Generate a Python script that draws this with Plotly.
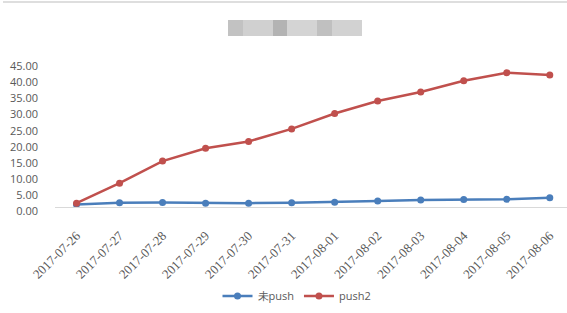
import plotly.graph_objects as go

dates = ["2017-07-26", "2017-07-27", "2017-07-28", "2017-07-29", "2017-07-30", "2017-07-31",
         "2017-08-01", "2017-08-02", "2017-08-03", "2017-08-04", "2017-08-05", "2017-08-06"]
no_push = [0.8, 1.3, 1.4, 1.2, 1.2, 1.3, 1.5, 1.85, 2.2, 2.3, 2.4, 2.9]
push2 = [1.2, 7.4, 14.3, 18.3, 20.4, 24.3, 29.1, 33.0, 35.8, 39.3, 41.8, 41.1]
y_ticks = [0, 5, 10, 15, 20, 25, 30, 35, 40, 45]
series_names = ["未push", "push2"]

BLUE = "#4A7EBB"
RED = "#C0504D"

fig = go.Figure()
fig.add_trace(go.Scatter(x=dates, y=no_push, name=series_names[0], mode="lines+markers",
                         line=dict(color=BLUE, width=2.5), marker=dict(color=BLUE, size=7)))
fig.add_trace(go.Scatter(x=dates, y=push2, name=series_names[1], mode="lines+markers",
                         line=dict(color=RED, width=2.5), marker=dict(color=RED, size=7)))

PL, PW, PB, PH = 55, 512, 207, 151  # plot area in pixels: left, width, bottom y, height


def px_x(x):
    return (x - PL) / PW


def px_y(y):
    return (PB - y) / PH


# blurred title placeholder blocks (decoration)
blocks = [(228, 243, "#c2c2c2"), (243, 273, "#d0d0d0"), (273, 287, "#b3b3b3"),
          (287, 317, "#d4d4d4"), (317, 332, "#c0c0c0"), (332, 362, "#d2d2d2")]
shapes = []
for x0, x1, c in blocks:
    shapes.append(dict(type="rect", xref="paper", yref="paper",
                       x0=px_x(x0), x1=px_x(x1), y0=px_y(36), y1=px_y(20),
                       fillcolor=c, line=dict(width=0), layer="above"))
# faint top border
shapes.append(dict(type="line", xref="paper", yref="paper",
                   x0=px_x(3), x1=px_x(567), y0=px_y(2), y1=px_y(2),
                   line=dict(color="#dedede", width=2)))

fig.update_layout(
    width=567, height=313,
    margin=dict(l=PL, r=0, t=56, b=106, autoexpand=False),
    paper_bgcolor="white", plot_bgcolor="white",
    showlegend=True,
    legend=dict(orientation="h", xref="container", yref="container",
                x=297 / 567, xanchor="center", y=(313 - 296) / 313, yanchor="middle",
                font=dict(family="Open Sans", size=11, color="#595959"),
                itemwidth=30, tracegroupgap=0),
    shapes=shapes,
    xaxis=dict(type="category", range=[-0.5, 11.4], showline=True, linecolor="#d9d9d9",
               linewidth=1, showgrid=False, zeroline=False, ticks="", tickangle=-45,
               ticklabelstandoff=15, automargin=False,
               tickfont=dict(family="Liberation Serif", size=13, color="#595959")),
    yaxis=dict(range=[0, 47], tickvals=y_ticks, ticktext=[f"{v:.2f}" for v in y_ticks],
               showgrid=False, zeroline=False, showline=False, ticks="",
               ticklabelstandoff=16, ticklabelshift=4, automargin=False,
               tickfont=dict(family="Open Sans", size=11, color="#595959")),
)

fig.write_html("out.html", config={"displayModeBar": False},
               post_script="document.body.style.margin='0';")
